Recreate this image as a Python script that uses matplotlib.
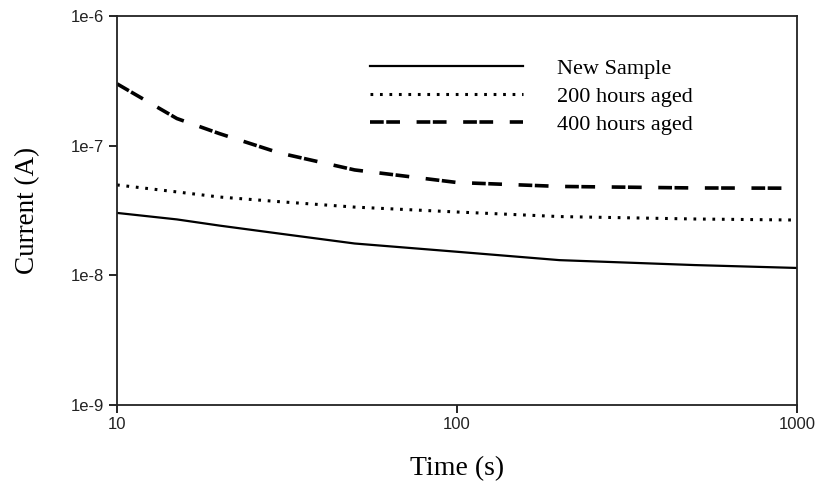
import matplotlib
matplotlib.use("Agg")
import matplotlib.pyplot as plt
from matplotlib.ticker import FixedLocator, NullLocator

# time points (s) and current (A) for each sample
t = [10, 15, 20, 30, 50, 100, 200, 500, 1000]
new_sample = [3.03e-8, 2.7e-8, 2.42e-8, 2.1e-8, 1.76e-8, 1.52e-8, 1.31e-8, 1.2e-8, 1.14e-8]
aged_200 = [4.98e-8, 4.4e-8, 4.02e-8, 3.7e-8, 3.36e-8, 3.08e-8, 2.84e-8, 2.72e-8, 2.67e-8]
aged_400 = [3.0e-7, 1.62e-7, 1.24e-7, 8.8e-8, 6.5e-8, 5.2e-8, 4.85e-8, 4.72e-8, 4.7e-8]

labels = ["New Sample", "200 hours aged", "400 hours aged"]
yticks = [1e-9, 1e-8, 1e-7, 1e-6]
ytick_labels = ["1e-9", "1e-8", "1e-7", "1e-6"]
xticks = [10, 100, 1000]
xtick_labels = ["10", "100", "1000"]

fig = plt.figure(figsize=(8.21, 4.86), dpi=100)
ax = fig.add_axes([0.1425, 0.1667, 0.8283, 0.8003])

ax.plot(t, new_sample, color="black", lw=1.6, label=labels[0])
ax.plot(t, aged_200, color="black", lw=2.2, linestyle=(0, (0.9, 2.2)), label=labels[1])
ax.plot(t, aged_400, color="black", lw=2.6, linestyle=(0, (3.8, 0.7, 3.8, 4.6)), label=labels[2])

ax.set_xscale("log")
ax.set_yscale("log")
ax.set_xlim(10, 1000)
ax.set_ylim(1e-9, 1e-6)

ax.xaxis.set_major_locator(FixedLocator(xticks))
ax.yaxis.set_major_locator(FixedLocator(yticks))
ax.xaxis.set_minor_locator(NullLocator())
ax.yaxis.set_minor_locator(NullLocator())
ax.set_xticklabels(xtick_labels, family="Liberation Sans", fontsize=12, color="#222222")
ax.set_yticklabels(ytick_labels, family="Liberation Sans", fontsize=12, color="#222222")
ax.tick_params(direction="out", length=6, width=1.2, pad=3)

for s in ax.spines.values():
    s.set_linewidth(1.3)
    s.set_color("#222222")

ax.set_xlabel("Time (s)", family="Liberation Serif", fontsize=20, labelpad=17)
ax.set_ylabel("Current (A)", family="Liberation Serif", fontsize=19.5, labelpad=22)

ax.legend(loc="upper left", bbox_to_anchor=(0.372, 0.892), frameon=False,
          borderpad=0, borderaxespad=0,
          prop={"family": "Liberation Serif", "size": 16},
          handlelength=6.9, handletextpad=1.5, labelspacing=0.34)

fig.savefig("out.png", dpi=100)
